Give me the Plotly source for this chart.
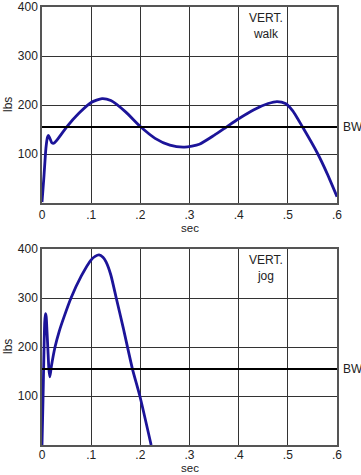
import plotly.graph_objects as go

# ---- data ----
walk_t = [0, 0.004, 0.008, 0.011, 0.013, 0.016, 0.020, 0.024, 0.03, 0.05, 0.075, 0.1, 0.122, 0.14, 0.17, 0.2, 0.23, 0.26, 0.29, 0.32, 0.35, 0.375, 0.4, 0.43, 0.46, 0.478, 0.495, 0.51, 0.53, 0.56, 0.58, 0.6]
walk_f = [2, 55, 112, 134, 138, 132, 123, 122, 128, 155, 183, 205, 213, 209, 186, 156, 132, 118, 114, 120, 138, 155, 172, 190, 203, 207, 203, 188, 155, 102, 60, 13]

jog_t = [0, 0.002, 0.004, 0.0055, 0.007, 0.0085, 0.010, 0.012, 0.014, 0.016, 0.019, 0.0265, 0.035, 0.045, 0.059, 0.08, 0.1, 0.108, 0.116, 0.124, 0.13, 0.14, 0.151, 0.165, 0.184, 0.199, 0.222]
jog_f = [0, 90, 190, 250, 268, 262, 235, 195, 155, 139, 160, 200, 232, 262, 300, 345, 378, 385, 388, 383, 374, 347, 300, 240, 155, 100, 0]

bw_value = 155
panel_labels = ["VERT.<br>walk", "VERT.<br>jog"]
x_title = "sec"
y_title = "lbs"
x_ticks = [0, 0.1, 0.2, 0.3, 0.4, 0.5, 0.6]
x_ticktext = ["0", ".1", ".2", ".3", ".4", ".5", ".6"]
y_ticks = [100, 200, 300, 400]
y_ticktext = ["100", "200", "300", "400"]

FONT = "Liberation Sans, Arial, sans-serif"
CURVE = "#1c1499"
TXT = dict(family=FONT, size=12, color="#222")
TXT_SM = dict(family=FONT, size=11.5, color="#222")

fig = go.Figure()

fig.add_trace(go.Scatter(x=walk_t, y=walk_f, mode="lines",
                         line=dict(color=CURVE, width=2.8, shape="spline", smoothing=0.6),
                         xaxis="x", yaxis="y", showlegend=False, hoverinfo="skip"))
fig.add_trace(go.Scatter(x=[0, 0.6], y=[bw_value, bw_value], mode="lines",
                         line=dict(color="black", width=2),
                         xaxis="x", yaxis="y", showlegend=False, hoverinfo="skip"))
fig.add_trace(go.Scatter(x=jog_t, y=jog_f, mode="lines",
                         line=dict(color=CURVE, width=2.8, shape="spline", smoothing=0.6),
                         xaxis="x2", yaxis="y2", showlegend=False, hoverinfo="skip"))
fig.add_trace(go.Scatter(x=[0, 0.6], y=[bw_value, bw_value], mode="lines",
                         line=dict(color="black", width=2),
                         xaxis="x2", yaxis="y2", showlegend=False, hoverinfo="skip"))

xd = [42 / 361, 337 / 361]
common_x = dict(range=[0, 0.6], tickvals=x_ticks, ticktext=x_ticktext, showgrid=True,
                gridcolor="#333333", gridwidth=1, showline=True, linecolor="#555555",
                linewidth=1.5, mirror=True, zeroline=False, ticks="", automargin=False,
                tickfont=TXT, domain=xd, fixedrange=True)
common_y = dict(range=[0, 400], tickvals=y_ticks, ticktext=y_ticktext, showgrid=True,
                gridcolor="#333333", gridwidth=1, showline=True, linecolor="#555555",
                linewidth=1.5, mirror=True, zeroline=False, ticks="", automargin=False,
                tickfont=TXT, fixedrange=True)

fig.update_layout(
    width=361, height=475, autosize=False,
    margin=dict(l=0, r=0, t=0, b=0),
    paper_bgcolor="white", plot_bgcolor="white",
    xaxis=dict(common_x, anchor="y"),
    yaxis=dict(common_y, domain=[1 - 203 / 475, 1 - 7 / 475], anchor="x"),
    xaxis2=dict(common_x, anchor="y2", ticklabelstandoff=-2),
    yaxis2=dict(common_y, domain=[1 - 445 / 475, 1 - 249 / 475], anchor="x2"),
)

for xr, yr, lab, sh in [("x", "y", panel_labels[0], -25), ("x2", "y2", panel_labels[1], -22.5)]:
    fig.add_annotation(x=0.455, y=362, xref=xr, yref=yr, text=lab, showarrow=False,
                       font=TXT, align="center")
    fig.add_annotation(x=1.0, y=bw_value, xref=f"{xr} domain", yref=yr, text="BW",
                       showarrow=False, xanchor="left", xshift=4, font=TXT)
    fig.add_annotation(x=0.5, y=0, xref=f"{xr} domain", yref=f"{yr} domain", text=x_title,
                       showarrow=False, yanchor="middle", yshift=sh, borderpad=0, font=TXT_SM)
    fig.add_annotation(x=0, y=0.5, xref=f"{xr} domain", yref=f"{yr} domain", text=y_title,
                       showarrow=False, xanchor="center", xshift=-34, textangle=-90, font=TXT)

fig.write_html("out.html", config={"displayModeBar": False},
               post_script="document.body.style.margin='0';document.body.style.overflow='hidden';")
